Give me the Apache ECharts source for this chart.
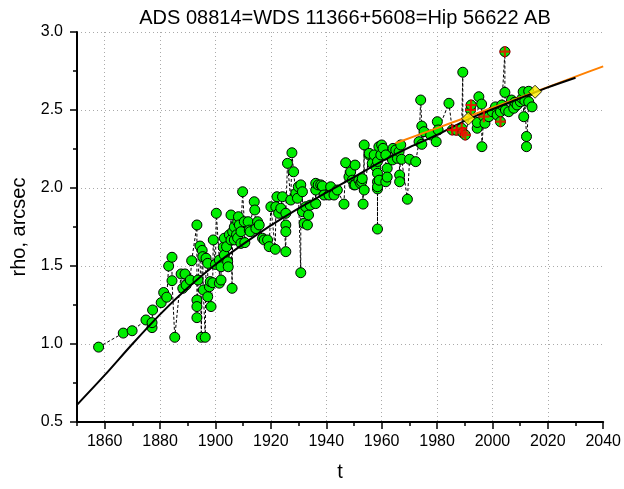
<!DOCTYPE html>
<html><head><meta charset="utf-8">
<script src="https://cdn.jsdelivr.net/npm/echarts@6/dist/echarts.min.js"></script>
<style>html,body{margin:0;padding:0;background:#fff}#c{width:624px;height:489px}</style>
</head><body><div id="c"></div>
<script>
const titleText = 'ADS 08814=WDS 11366+5608=Hip 56622 AB';
const xName = 't';
const yName = 'rho, arcsec';
const xMin = 1850, xMax = 2040;
const yMin = 0.5, yMax = 3.0, yStep = 0.5;

// observations (epoch, separation)
const obsT = [1857.8,1866.7,1869.9,1874.9,1877.1,1877.1,1877.3,1880.4,1881.3,1882.4,1883.1,1884.3,1884.3,1885.3,1887.6,1888.2,1889.0,1889.4,1890.9,1891.4,
1893.3,1893.3,1893.3,1893.3,1893.7,1894.4,1894.9,1895.2,1895.4,1895.6,1896.3,1896.6,1897.2,1897.2,1897.8,1898.1,1898.4,1899.0,1899.2,1900.0,
1900.3,1901.4,1901.4,1902.0,1902.0,1902.8,1903.2,1903.2,1904.0,1904.4,1904.6,1905.0,1905.6,1905.6,1906.0,1906.2,1906.8,1906.8,1907.6,1908.0,
1908.0,1908.3,1908.6,1909.2,1909.2,1909.8,1910.4,1910.6,1911.8,1912.2,1912.5,1914.0,1914.2,1914.6,1915.2,1915.8,1917.0,1917.6,1918.8,1919.4,
1920.0,1921.6,1921.8,1922.2,1922.8,1923.6,1924.2,1925.4,1925.4,1925.4,1925.4,1926.0,1927.2,1927.6,1928.2,1929.0,1929.6,1929.9,1930.8,1930.8,
1931.4,1931.4,1932.0,1932.6,1933.2,1933.6,1934.2,1936.2,1936.2,1936.2,1937.1,1938.0,1938.6,1939.2,1941.0,1941.6,1942.8,1944.0,1946.4,1947.0,
1948.2,1948.8,1949.4,1950.0,1950.4,1950.4,1951.8,1952.4,1952.8,1953.0,1953.3,1953.7,1953.7,1955.5,1955.5,1956.6,1957.3,1957.9,1958.5,1958.5,
1958.5,1958.5,1958.5,1958.5,1959.0,1959.1,1959.7,1960.0,1960.5,1961.5,1961.5,1962.0,1962.0,1963.9,1964.1,1965.1,1965.7,1966.3,1966.5,1966.5,
1966.9,1967.2,1969.3,1970.1,1972.3,1973.5,1974.1,1974.5,1974.5,1975.3,1977.7,1979.7,1980.1,1980.4,1984.3,1985.5,1987.0,1988.9,1989.3,1989.3,
1990.2,1992.1,1992.3,1994.5,1994.5,1995.1,1996.1,1996.2,1996.9,1997.3,1998.7,1999.9,2001.1,2001.7,2002.9,2002.9,2003.4,2004.5,2004.5,2004.7,
2005.9,2006.9,2007.7,2008.1,2008.9,2010.1,2010.7,2011.1,2011.3,2011.7,2012.3,2012.3,2013.1,2013.1,2014.3];
const obsRho = [0.98,1.07,1.085,1.154,1.105,1.137,1.218,1.265,1.33,1.30,1.50,1.556,1.406,1.043,1.449,1.357,1.449,1.378,1.41,1.534,
1.763,1.282,1.24,1.169,1.41,1.628,1.043,1.60,1.56,1.346,1.043,1.55,1.517,1.303,1.367,1.40,1.24,1.393,1.667,1.51,
1.838,1.538,1.39,1.41,1.495,1.62,1.57,1.678,1.624,1.527,1.495,1.70,1.667,1.827,1.357,1.72,1.75,1.667,1.70,1.784,
1.68,1.816,1.763,1.645,1.72,1.976,1.784,1.65,1.784,1.73,1.72,1.912,1.859,1.74,1.784,1.763,1.678,1.667,1.667,1.624,
1.88,1.607,1.88,1.944,1.838,1.87,1.944,1.592,1.763,1.72,1.838,2.158,1.923,2.226,2.104,1.966,1.934,2.008,1.457,2.02,
1.976,1.848,1.774,1.88,1.763,1.827,1.89,1.987,1.90,2.03,2.02,2.02,2.013,1.955,1.955,2.008,1.955,1.987,1.897,2.162,
2.072,2.104,2.05,2.02,2.147,2.02,2.05,2.03,2.04,2.06,1.897,2.276,1.987,2.212,2.222,2.158,2.212,2.136,2.17,2.094,
2.04,1.994,1.737,2.008,2.265,2.05,2.212,2.276,2.254,2.212,2.04,2.126,2.07,2.18,2.254,2.244,2.19,2.233,2.083,2.04,
2.276,2.184,1.928,2.184,2.169,2.297,2.564,2.397,2.28,2.361,2.34,2.297,2.425,2.372,2.543,2.372,2.37,2.383,2.742,2.355,
2.34,2.50,2.532,2.383,2.42,2.585,2.538,2.265,2.457,2.415,2.457,2.489,2.52,2.468,2.425,2.489,2.532,2.874,2.613,2.50,
2.489,2.564,2.511,2.55,2.532,2.553,2.574,2.617,2.457,2.56,2.33,2.265,2.553,2.62,2.52];

// observations marked with red crosses
const crossT = [1985.5,1987.0,1988.9,1989.3,1990.2,1992.1,1992.3,1996.9,2002.9,2004.5];
const crossRho = [2.372,2.37,2.383,2.355,2.34,2.50,2.532,2.457,2.425,2.874];

// yellow diamonds
const ephT = [1991.3, 2015.4];
const ephRho = [2.445, 2.617];

// black orbit curve
const fitT = [1850,1860,1870,1880,1890,1900,1910,1920,1930,1940,1950,1960,1970,1980,1990,2000,2010,2020,2030];
const fitRho = [0.61,0.80,1.00,1.19,1.36,1.51,1.64,1.76,1.87,1.97,2.07,2.17,2.26,2.34,2.43,2.505,2.575,2.645,2.707];

// orange curve
const fit2T = [1965,1980,1990,2000,2010,2020,2030,2040];
const fit2Rho = [2.287,2.384,2.449,2.515,2.58,2.647,2.714,2.78];

const zip = (a, b) => a.map((v, i) => [v, b[i]]);
const obs = zip(obsT, obsRho).map((p, i) => [p[0], p[1], i]).sort((a, b) => a[0] - b[0] || a[2] - b[2]).map(p => [p[0], p[1]]);

const font = '"Liberation Sans", Arial, sans-serif';
const black = '#000';
const gridLine = { color: '#aaaaaa', type: [1, 3], width: 1 };

const chart = echarts.init(document.getElementById('c'), null, { renderer: 'canvas' });
chart.setOption({
  animation: false,
  backgroundColor: '#fff',
  title: {
    text: titleText, left: 340, top: 3, textAlign: 'center',
    textStyle: { fontFamily: font, fontSize: 20, fontWeight: 'normal', color: black }
  },
  grid: { left: 77, right: 20, top: 32, bottom: 67 },
  xAxis: [
    {
      type: 'value', min: xMin, max: xMax, interval: 10,
      axisLine: { show: true, lineStyle: { color: black, width: 2 } },
      axisTick: { show: true, length: 4, lineStyle: { color: black, width: 1.5 } },
      axisLabel: { show: false },
      splitLine: { show: false }
    },
    {
      type: 'value', min: xMin, max: xMax, splitNumber: 10, position: 'bottom',
      axisLine: { show: false },
      axisTick: { show: true, length: 7, lineStyle: { color: black, width: 1.5 } },
      axisLabel: { fontFamily: font, fontSize: 16, color: black, margin: 12, showMinLabel: false, formatter: v => String(v) },
      splitLine: { show: true, showMinLine: false, showMaxLine: false, lineStyle: gridLine },
      name: xName, nameLocation: 'middle', nameGap: 40,
      nameTextStyle: { fontFamily: font, fontSize: 20, color: black }
    }
  ],
  yAxis: {
    type: 'value', min: yMin, max: yMax, interval: yStep,
    axisLine: { show: true, lineStyle: { color: black, width: 2 } },
    axisTick: { show: true, length: 7, lineStyle: { color: black, width: 1.5 } },
    minorTick: { show: true, splitNumber: 2, length: 4, lineStyle: { color: black, width: 1.5 } },
    axisLabel: { fontFamily: font, fontSize: 16, color: black, margin: 14, formatter: v => v.toFixed(1) },
    splitLine: { show: true, showMinLine: false, lineStyle: gridLine },
    name: yName, nameLocation: 'middle', nameGap: 44,
    nameTextStyle: { fontFamily: font, fontSize: 20, color: black }
  },
  series: [
    {
      type: 'line', data: obs, symbol: 'circle', symbolSize: 10,
      itemStyle: { color: '#00ee00', borderColor: black, borderWidth: 1 },
      lineStyle: { color: black, width: 1, type: [3, 2] }, z: 2
    },
    {
      type: 'line', data: zip(fit2T, fit2Rho), smooth: 0.3, symbol: 'none',
      lineStyle: { color: '#ff8000', width: 2 }, z: 3
    },
    {
      type: 'line', data: zip(fitT, fitRho), smooth: 0.3, symbol: 'none',
      lineStyle: { color: black, width: 2 }, z: 4
    },
    {
      type: 'scatter', data: zip(crossT, crossRho),
      symbol: 'path://M4,0h2v4h4v2h-4v4h-2v-4h-4v-2h4z', symbolSize: 11,
      itemStyle: { color: '#ff0000' }, z: 5
    },
    {
      type: 'scatter', data: zip(ephT, ephRho), symbol: 'diamond', symbolSize: 13,
      itemStyle: { color: '#ffee00', borderColor: black, borderWidth: 1 }, z: 6
    }
  ]
});
</script>
</body></html>
